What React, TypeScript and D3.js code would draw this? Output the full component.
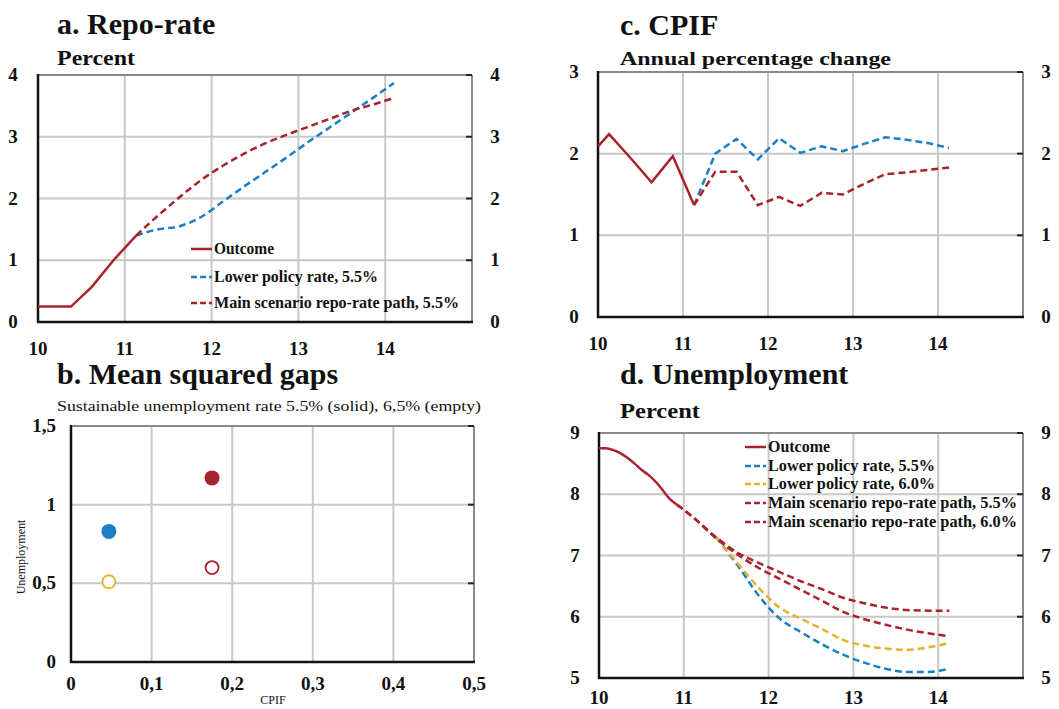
import React, { useEffect, useRef } from 'react';
import * as d3 from 'd3';

const RED = '#a8232b';
const BLUE = '#1b7fc4';
const YELLOW = '#e5b22b';
const FONT = '"Liberation Serif", "Times New Roman", serif';

// a. Repo-rate
const repoOutX = [10, 10.38, 10.62, 10.87, 11.13];
const repoOutcome = [0.25, 0.25, 0.57, 1.0, 1.4];
const repoFcX = [11.13, 11.38, 11.63, 11.88, 12.13, 12.38, 12.63, 12.88, 13.13, 13.38, 13.63, 13.88, 14.1];
const repoLower55 = [1.4, 1.5, 1.55, 1.7, 1.95, 2.2, 2.44, 2.68, 2.93, 3.17, 3.41, 3.65, 3.87];
const repoMain55 = [1.4, 1.72, 2.02, 2.3, 2.53, 2.73, 2.9, 3.04, 3.17, 3.3, 3.43, 3.53, 3.63];

// c. CPIF
const cpifOutX = [10, 10.13, 10.38, 10.63, 10.88, 11.13];
const cpifOutcome = [2.09, 2.24, 1.95, 1.65, 1.97, 1.37];
const cpifFcX = [11.13, 11.38, 11.63, 11.88, 12.13, 12.38, 12.63, 12.88, 13.13, 13.38, 13.63, 13.88, 14.13];
const cpifLower = [1.37, 2.0, 2.18, 1.93, 2.19, 2.01, 2.09, 2.03, 2.12, 2.2, 2.17, 2.13, 2.07];
const cpifMain = [1.37, 1.78, 1.78, 1.37, 1.47, 1.36, 1.52, 1.5, 1.63, 1.75, 1.77, 1.8, 1.83];

// d. Unemployment
const unempOutX = [10, 10.08, 10.17, 10.25, 10.33, 10.42, 10.5, 10.58, 10.67, 10.75, 10.83, 10.92];
const unempOutcome = [8.75, 8.75, 8.72, 8.67, 8.6, 8.5, 8.4, 8.32, 8.2, 8.07, 7.93, 7.83];
const unempMainX = [10.92, 11.13, 11.38, 11.63, 11.88, 12.13, 12.38, 12.63, 12.88, 13.13, 13.38, 13.63, 13.88, 14.13];
const unempMain60 = [7.83, 7.6, 7.3, 7.05, 6.88, 6.73, 6.58, 6.45, 6.31, 6.22, 6.15, 6.11, 6.1, 6.1];
const unempMain55 = [7.83, 7.6, 7.28, 7.02, 6.8, 6.62, 6.44, 6.26, 6.08, 5.96, 5.87, 5.79, 5.73, 5.68];
const unempLowX = [11.38, 11.63, 11.88, 12.13, 12.38, 12.63, 12.88, 13.13, 13.38, 13.63, 13.88, 14.13];
const unempLower55 = [7.3, 6.85, 6.35, 5.97, 5.75, 5.55, 5.38, 5.25, 5.15, 5.1, 5.1, 5.15];
const unempLower60 = [7.3, 6.88, 6.48, 6.15, 5.97, 5.8, 5.62, 5.53, 5.48, 5.46, 5.5, 5.57];

// b. Mean squared gaps
const solidCpif = [0.175, 0.047];
const solidUnemp = [1.17, 0.83];
const solidColor = [RED, BLUE];
const emptyCpif = [0.047, 0.175];
const emptyUnemp = [0.51, 0.6];
const emptyColor = [YELLOW, RED];

const yearTicks = [10, 11, 12, 13, 14];

const App = () => {
  const svgRef = useRef(null);

  useEffect(() => {
    const svg = d3.select(svgRef.current);
    svg.selectAll('*').remove();

    const text = (x, y, s, size, weight = 'bold', anchor = 'start') =>
      svg.append('text')
        .attr('x', x).attr('y', y)
        .attr('font-family', FONT)
        .attr('font-size', size)
        .attr('font-weight', weight)
        .attr('text-anchor', anchor)
        .attr('fill', '#111')
        .text(s);

    const fit = (sel, w) => sel.attr('textLength', w).attr('lengthAdjust', 'spacingAndGlyphs');

    // draws grid, frame and tick labels, returns scales
    const frame = (p) => {
      const x = d3.scaleLinear().domain(p.xDomain).range([p.left, p.right]);
      const y = d3.scaleLinear().domain(p.yDomain).range([p.bottom, p.top]);
      const g = svg.append('g');
      g.selectAll('.vg').data(p.xGrid).enter().append('line')
        .attr('x1', d => x(d)).attr('x2', d => x(d))
        .attr('y1', p.top).attr('y2', p.bottom)
        .attr('stroke', '#c8c8c8').attr('stroke-width', 2);
      g.selectAll('.hg').data(p.yGrid).enter().append('line')
        .attr('x1', p.left).attr('x2', p.right)
        .attr('y1', d => y(d)).attr('y2', d => y(d))
        .attr('stroke', '#c8c8c8').attr('stroke-width', 2);
      g.append('line').attr('x1', p.left).attr('x2', p.right).attr('y1', p.top).attr('y2', p.top)
        .attr('stroke', '#8a8a8a').attr('stroke-width', 2);
      g.append('line').attr('x1', p.right).attr('x2', p.right).attr('y1', p.top).attr('y2', p.bottom)
        .attr('stroke', '#8a8a8a').attr('stroke-width', 2);
      g.selectAll('.rt').data(p.yTicks).enter().append('line')
        .attr('x1', p.right - 6).attr('x2', p.right)
        .attr('y1', d => y(d)).attr('y2', d => y(d))
        .attr('stroke', '#222').attr('stroke-width', 2);
      g.append('line').attr('x1', p.left).attr('x2', p.left).attr('y1', p.top - 1).attr('y2', p.bottom + 1)
        .attr('stroke', '#111').attr('stroke-width', 2.5);
      g.append('line').attr('x1', p.left - 1).attr('x2', p.right + 1).attr('y1', p.bottom).attr('y2', p.bottom)
        .attr('stroke', '#111').attr('stroke-width', 2.5);

      p.yTicks.forEach((t, i) => {
        const lab = p.yLabels ? p.yLabels[i] : String(t);
        text(p.yLabelLeft, y(t) + 6, lab, 19, 'bold', p.yAnchor || 'middle');
        if (p.yLabelRight) text(p.yLabelRight, y(t) + 6, lab, 19, 'bold', 'middle');
      });
      p.xTicks.forEach((t, i) => {
        const lab = p.xLabels ? p.xLabels[i] : String(t);
        text(x(t), p.xLabelY, lab, 19, 'bold', 'middle');
      });
      return { x, y, g };
    };

    const path = (g, x, y, xs, ys, color, dashed, curve = d3.curveLinear) => {
      const line = d3.line().x(i => x(xs[i])).y(i => y(ys[i])).curve(curve);
      g.append('path')
        .attr('d', line(d3.range(xs.length)))
        .attr('fill', 'none')
        .attr('stroke', color)
        .attr('stroke-width', 2.5)
        .attr('stroke-dasharray', dashed ? '7,4' : null);
    };

    const legend = (x0, rows, ys) => {
      rows.forEach((r, i) => {
        svg.append('line')
          .attr('x1', x0).attr('x2', x0 + 21)
          .attr('y1', ys[i]).attr('y2', ys[i])
          .attr('stroke', r.color).attr('stroke-width', 2.5)
          .attr('stroke-dasharray', r.dashed ? '6,3' : null);
        fit(text(x0 + 23, ys[i] + 5, r.label, 16, 'bold'), r.w);
      });
    };

    // ---- a. Repo-rate
    text(57, 34, 'a. Repo-rate', 30);
    fit(text(57, 65, 'Percent', 20), 78);
    const a = frame({
      left: 38, right: 472, top: 75, bottom: 322,
      xDomain: [10, 15], yDomain: [0, 4],
      xGrid: [11, 12, 13, 14], yGrid: [1, 2, 3],
      xTicks: yearTicks, yTicks: [0, 1, 2, 3, 4],
      yLabelLeft: 13, yLabelRight: 495, xLabelY: 355,
    });
    path(a.g, a.x, a.y, repoFcX, repoLower55, BLUE, true, d3.curveMonotoneX);
    path(a.g, a.x, a.y, repoFcX, repoMain55, RED, true, d3.curveMonotoneX);
    path(a.g, a.x, a.y, repoOutX, repoOutcome, RED, false);
    legend(191, [
      { label: 'Outcome', color: RED, dashed: false, w: 60 },
      { label: 'Lower policy rate, 5.5%', color: BLUE, dashed: true, w: 164 },
      { label: 'Main scenario repo-rate path, 5.5%', color: RED, dashed: true, w: 245 },
    ], [249, 277, 303]);

    // ---- c. CPIF
    text(620, 35, 'c. CPIF', 30);
    fit(text(620, 65, 'Annual percentage change', 19), 271);
    const c = frame({
      left: 598, right: 1023, top: 72, bottom: 317,
      xDomain: [10, 15], yDomain: [0, 3],
      xGrid: [11, 12, 13, 14], yGrid: [1, 2],
      xTicks: yearTicks, yTicks: [0, 1, 2, 3],
      yLabelLeft: 574, yLabelRight: 1046, xLabelY: 350,
    });
    path(c.g, c.x, c.y, cpifFcX, cpifLower, BLUE, true);
    path(c.g, c.x, c.y, cpifFcX, cpifMain, RED, true);
    path(c.g, c.x, c.y, cpifOutX, cpifOutcome, RED, false);

    // ---- b. Mean squared gaps
    text(57, 384, 'b. Mean squared gaps', 30);
    fit(text(57, 411, 'Sustainable unemployment rate 5.5% (solid), 6,5% (empty)', 14, 'normal'), 424);
    const b = frame({
      left: 71, right: 474, top: 426, bottom: 662,
      xDomain: [0, 0.5], yDomain: [0, 1.5],
      xGrid: [0.1, 0.2, 0.3, 0.4], yGrid: [0.5, 1],
      xTicks: [0, 0.1, 0.2, 0.3, 0.4, 0.5], xLabels: ['0', '0,1', '0,2', '0,3', '0,4', '0,5'],
      yTicks: [0, 0.5, 1, 1.5], yLabels: ['0', '0,5', '1', '1,5'],
      yLabelLeft: 56, yAnchor: 'end', xLabelY: 690,
    });
    b.g.selectAll('.solid').data(d3.range(solidCpif.length)).enter().append('circle')
      .attr('cx', i => b.x(solidCpif[i])).attr('cy', i => b.y(solidUnemp[i]))
      .attr('r', 7.5).attr('fill', i => solidColor[i]);
    b.g.selectAll('.empty').data(d3.range(emptyCpif.length)).enter().append('circle')
      .attr('cx', i => b.x(emptyCpif[i])).attr('cy', i => b.y(emptyUnemp[i]))
      .attr('r', 6.5).attr('fill', 'white').attr('stroke', i => emptyColor[i]).attr('stroke-width', 1.8);
    text(273, 704, 'CPIF', 12, 'normal', 'middle');
    text(0, 0, 'Unemployment', 12, 'normal', 'middle')
      .attr('transform', 'translate(25,557) rotate(-90)');

    // ---- d. Unemployment
    text(620, 384, 'd. Unemployment', 30);
    fit(text(620, 418, 'Percent', 20), 80);
    const dd = frame({
      left: 599, right: 1023, top: 433, bottom: 678,
      xDomain: [10, 15], yDomain: [5, 9],
      xGrid: [11, 12, 13, 14], yGrid: [6, 7, 8],
      xTicks: yearTicks, yTicks: [5, 6, 7, 8, 9],
      yLabelLeft: 575, yLabelRight: 1046, xLabelY: 704,
    });
    path(dd.g, dd.x, dd.y, unempLowX, unempLower55, BLUE, true, d3.curveMonotoneX);
    path(dd.g, dd.x, dd.y, unempLowX, unempLower60, YELLOW, true, d3.curveMonotoneX);
    path(dd.g, dd.x, dd.y, unempMainX, unempMain60, RED, true, d3.curveMonotoneX);
    path(dd.g, dd.x, dd.y, unempMainX, unempMain55, RED, true, d3.curveMonotoneX);
    path(dd.g, dd.x, dd.y, unempOutX, unempOutcome, RED, false, d3.curveMonotoneX);
    legend(745, [
      { label: 'Outcome', color: RED, dashed: false, w: 62 },
      { label: 'Lower policy rate, 5.5%', color: BLUE, dashed: true, w: 167 },
      { label: 'Lower policy rate, 6.0%', color: YELLOW, dashed: true, w: 167 },
      { label: 'Main scenario repo-rate path, 5.5%', color: RED, dashed: true, w: 249 },
      { label: 'Main scenario repo-rate path, 6.0%', color: RED, dashed: true, w: 249 },
    ], [447, 466, 484, 503, 522]);
  }, []);

  return (
    <svg
      ref={svgRef}
      width={1059}
      height={709}
      style={{ position: 'absolute', left: 0, top: 0, background: 'white' }}
    />
  );
};

export default App;
